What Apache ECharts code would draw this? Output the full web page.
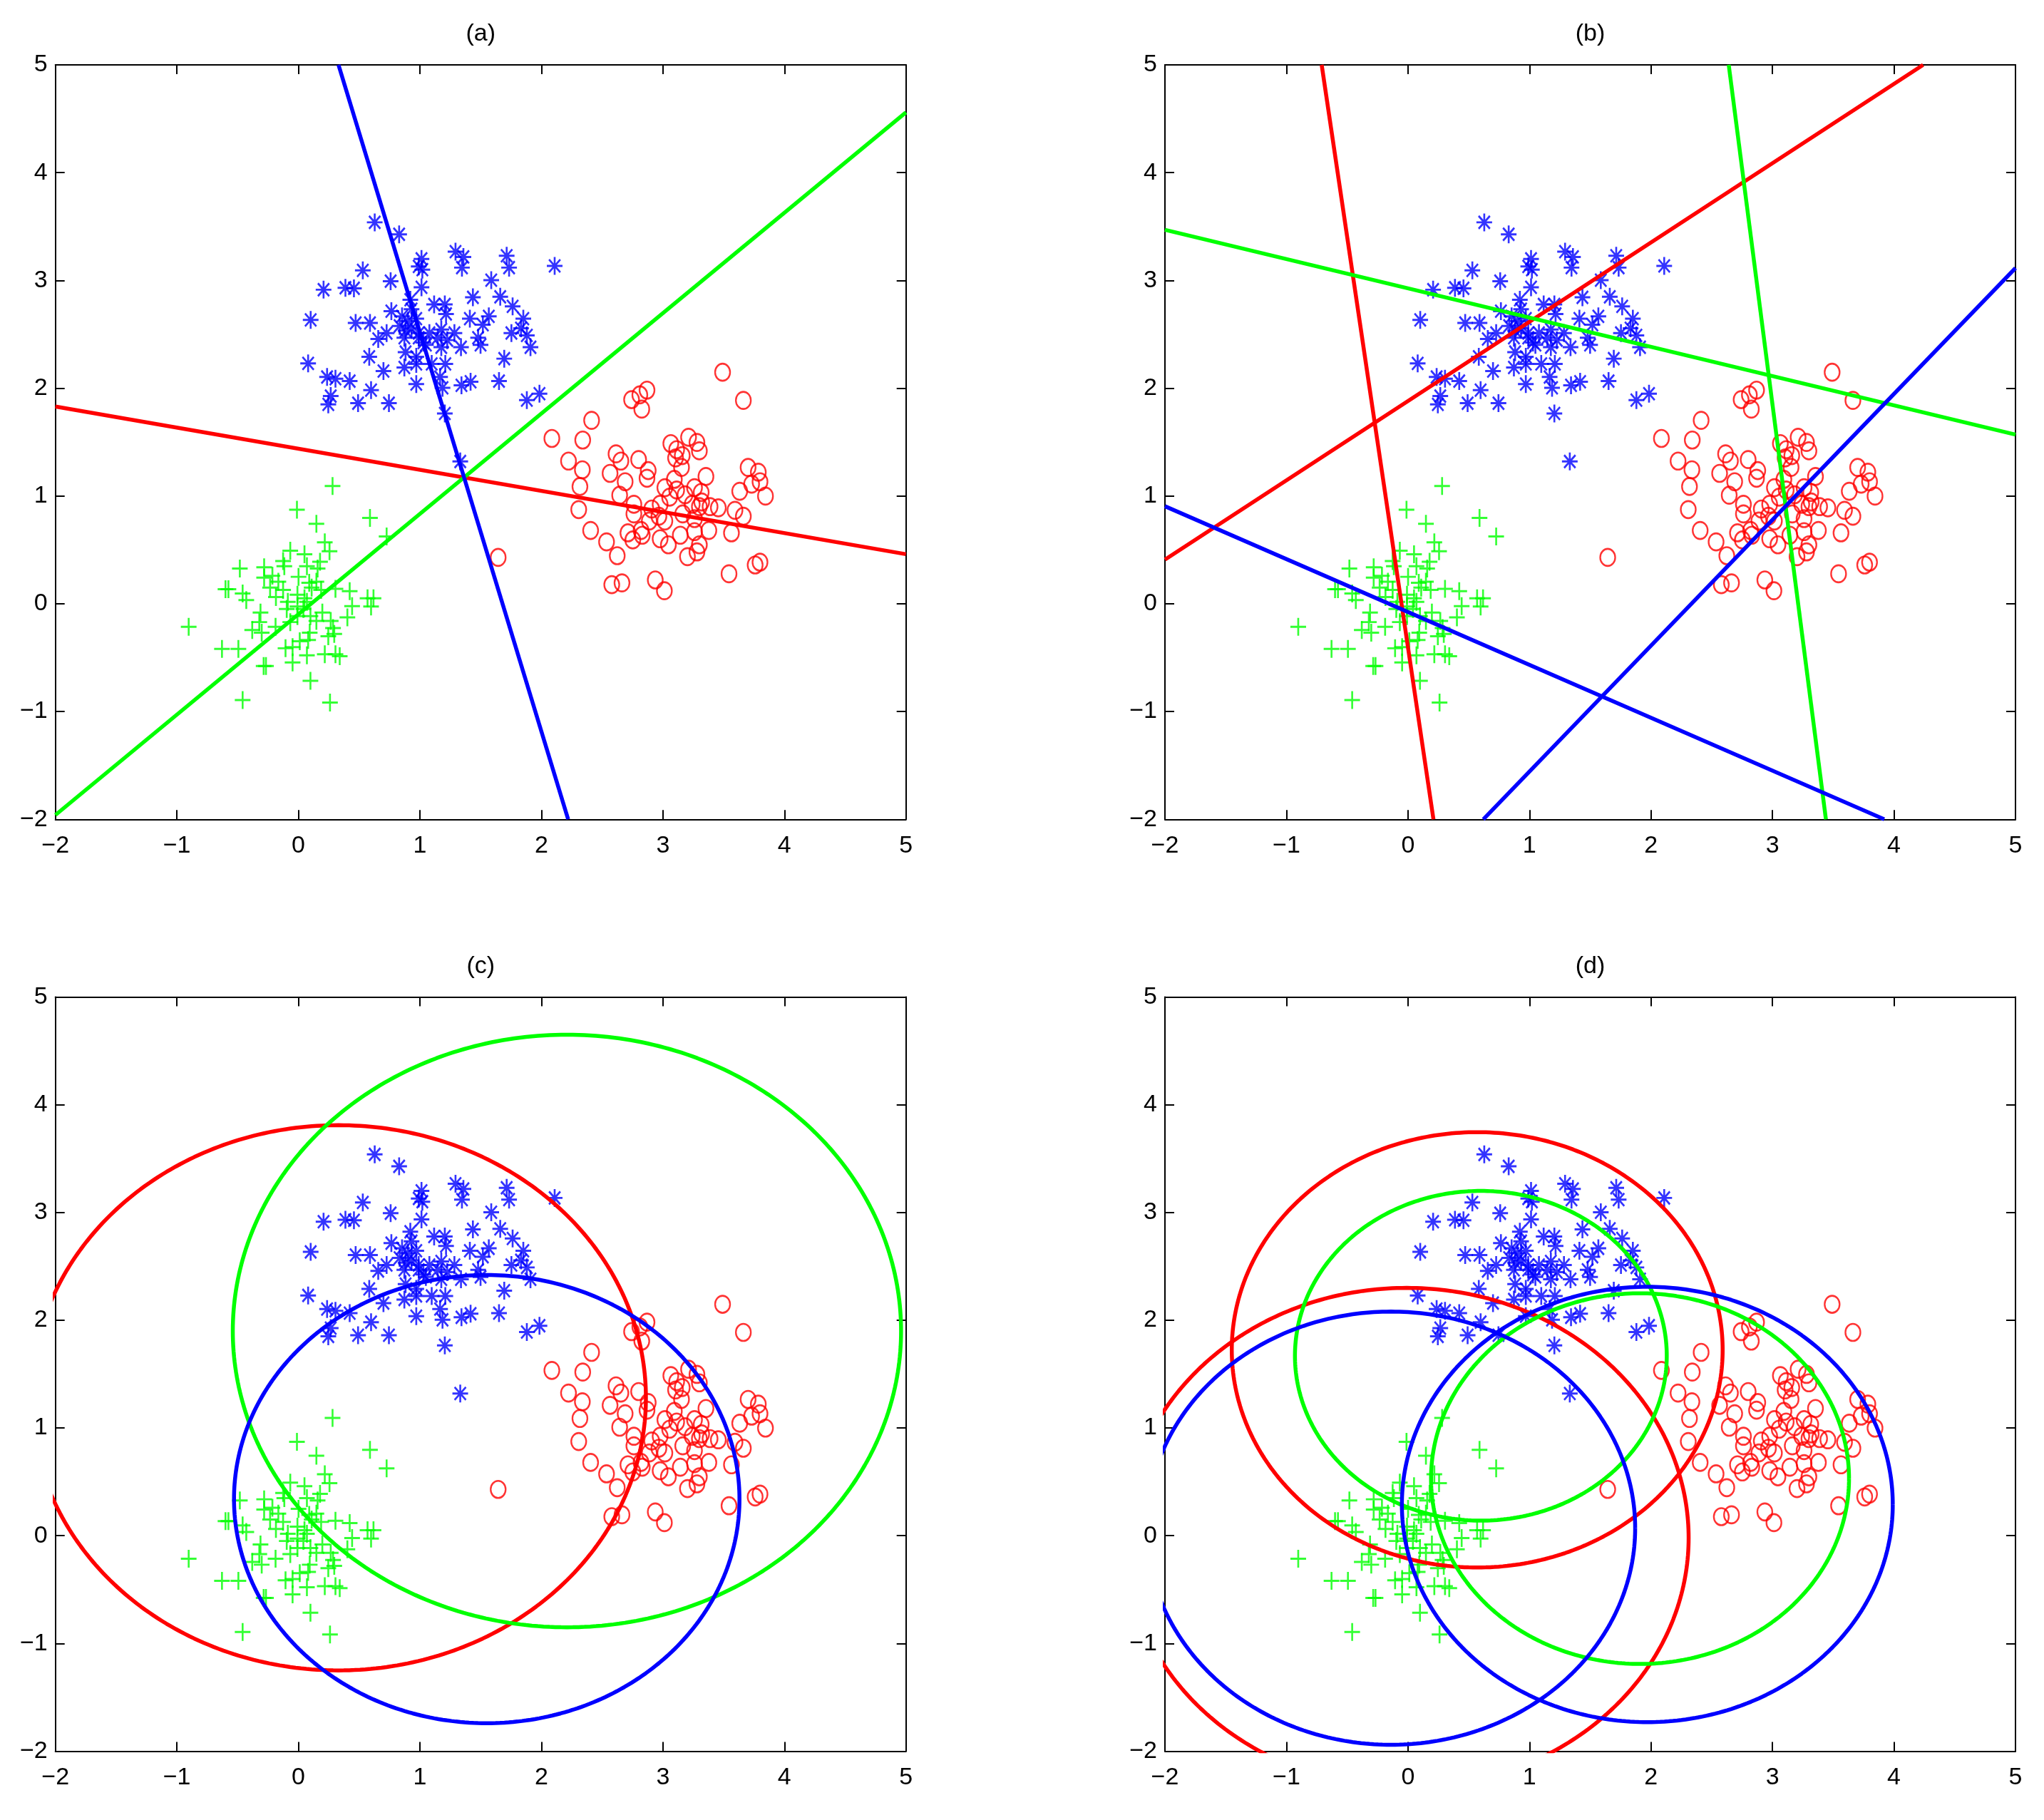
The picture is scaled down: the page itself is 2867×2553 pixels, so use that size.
<!DOCTYPE html>
<html>
<head>
<meta charset="utf-8">
<script src="https://cdn.jsdelivr.net/npm/echarts@6/dist/echarts.min.js"></script>
<style>
html,body{margin:0;padding:0;background:#fff;}
#chart{width:2867px;height:2553px;}
</style>
</head>
<body>
<div id="chart"></div>
<script>
// ---------------- DATA ----------------
const panelTitles = ['(a)', '(b)', '(c)', '(d)'];
const tickValues = [-2, -1, 0, 1, 2, 3, 4, 5];

const blueStars = [
[0.628,3.539],[0.829,3.428],[1.293,3.267],[1.358,3.218],[1.346,3.119],[1.714,3.229],[1.734,3.119],[2.109,3.135],
[0.530,3.093],[0.207,2.914],[0.387,2.932],[0.457,2.927],[0.759,2.993],[1.013,3.200],[0.990,3.130],[1.020,3.100],
[1.013,2.936],[1.587,3.002],[1.436,2.843],[1.661,2.848],[1.763,2.759],[1.851,2.645],[0.101,2.634],[0.471,2.605],
[0.589,2.605],[0.921,2.821],[0.765,2.715],[0.853,2.667],[0.902,2.623],[0.931,2.556],[0.882,2.534],[0.970,2.645],
[0.833,2.578],[0.931,2.733],[0.872,2.468],[0.990,2.512],[1.117,2.777],[1.205,2.777],[1.215,2.689],[1.411,2.645],
[1.567,2.667],[1.518,2.589],[1.753,2.512],[1.832,2.556],[1.880,2.490],[1.910,2.380],[1.479,2.468],[1.499,2.402],
[1.338,2.380],[1.284,2.512],[1.176,2.545],[1.078,2.512],[1.147,2.468],[1.225,2.446],[1.176,2.380],[1.029,2.424],
[0.657,2.457],[0.726,2.512],[0.882,2.335],[0.970,2.291],[0.583,2.291],[0.080,2.230],[0.872,2.192],[0.970,2.225],
[1.097,2.225],[1.209,2.225],[1.694,2.274],[0.700,2.159],[0.236,2.104],[0.305,2.088],[0.422,2.066],[0.598,1.982],
[0.266,1.927],[0.246,1.850],[0.491,1.861],[0.745,1.861],[0.970,2.038],[1.166,2.104],[1.186,2.004],[1.342,2.027],
[1.417,2.060],[1.651,2.066],[1.880,1.890],[1.984,1.949],[1.205,1.766],[1.332,1.320],[1.049,2.402],[0.990,2.468]
];

const redCircles = [
[3.491,2.148],[3.662,1.887],[2.742,1.894],[2.810,1.938],[2.869,1.982],[2.826,1.806],[2.413,1.702],[2.086,1.534],
[2.340,1.519],[2.223,1.324],[2.337,1.243],[2.317,1.088],[2.307,0.874],[2.405,0.680],[2.536,0.574],[2.624,0.446],
[2.579,0.177],[2.663,0.194],[2.937,0.221],[3.012,0.121],[3.544,0.278],[3.759,0.360],[3.799,0.386],[2.614,1.391],
[2.654,1.324],[2.565,1.210],[2.689,1.132],[2.644,1.007],[2.800,1.338],[2.879,1.236],[2.869,1.165],[3.065,1.486],
[3.211,1.545],[3.280,1.497],[3.300,1.419],[3.113,1.430],[3.159,1.375],[3.104,1.353],[3.153,1.265],[3.354,1.181],
[3.701,1.265],[3.785,1.221],[3.799,1.132],[3.844,0.999],[3.632,1.044],[3.730,1.110],[3.016,1.077],[3.094,1.154],
[3.113,1.055],[3.260,1.077],[3.315,1.033],[3.182,1.011],[3.055,0.989],[2.977,0.923],[2.761,0.923],[2.761,0.834],
[2.908,0.879],[2.967,0.812],[3.016,0.768],[3.241,0.923],[3.300,0.901],[3.388,0.901],[3.456,0.890],[3.593,0.867],
[3.662,0.812],[3.163,0.834],[3.260,0.790],[3.378,0.680],[3.564,0.658],[3.260,0.669],[3.300,0.547],[3.280,0.481],
[3.202,0.437],[3.143,0.636],[3.045,0.547],[2.977,0.603],[2.830,0.636],[2.820,0.680],[2.752,0.592],[2.712,0.658],
[2.888,0.768],[3.319,0.945],[1.644,0.430]
];

const greenPlus = [
[0.281,1.093],[-0.012,0.872],[0.148,0.742],[0.589,0.797],[0.726,0.625],[0.217,0.570],[0.256,0.488],[-0.067,0.492],
[0.050,0.459],[-0.126,0.397],[-0.116,0.348],[0.178,0.389],[0.158,0.327],[0.070,0.349],[-0.282,0.338],[-0.482,0.327],
[-0.600,0.135],[-0.576,0.135],[-0.459,0.095],[-0.429,0.035],[-0.282,0.243],[-0.214,0.260],[-0.165,0.205],[-0.233,0.150],
[-0.126,0.128],[0.001,0.250],[0.089,0.194],[0.148,0.205],[0.187,0.128],[0.305,0.139],[0.422,0.117],[0.569,0.051],
[0.618,0.051],[0.598,-0.026],[0.442,-0.022],[0.403,-0.126],[0.266,-0.159],[0.285,-0.225],[0.295,-0.280],[0.246,-0.302],
[0.099,-0.115],[0.041,-0.049],[0.070,0.018],[-0.008,-0.026],[-0.096,-0.049],[-0.008,-0.115],[-0.067,-0.170],[0.148,-0.159],
[-0.312,-0.082],[-0.322,-0.170],[-0.380,-0.243],[-0.302,-0.269],[-0.188,-0.214],[-0.903,-0.214],[-0.629,-0.419],[-0.494,-0.419],
[-0.286,-0.578],[-0.267,-0.578],[-0.048,-0.545],[-0.106,-0.413],[-0.048,-0.402],[0.011,-0.347],[0.080,-0.336],[0.093,-0.269],
[0.070,-0.479],[0.217,-0.468],[0.305,-0.468],[0.340,-0.486],[0.099,-0.715],[-0.459,-0.894],[0.260,-0.916],[-0.008,0.084],
[0.050,0.051],[0.109,0.150],[0.197,-0.082],[-0.087,0.018],[-0.185,0.062]
];

// Panel (a) separating lines: endpoints [x, y]
const aRedLines   = [[[-2, 1.83], [5, 0.46]]];
const aGreenLines = [[[-2, -1.96], [5, 4.56]]];
const aBlueLines  = [[[0.33, 5], [2.22, -2]]];

// Panel (b) lines
const bRedLines   = [[[-2, 0.41], [4.24, 5]], [[-0.71, 5], [0.21, -2]]];
const bGreenLines = [[[-2, 3.47], [5, 1.57]], [[2.64, 5], [3.44, -2]]];
const bBlueLines  = [[[-2, 0.905], [3.92, -2]], [[0.62, -2], [5, 3.115]]];

// Panel (c) and (d) circles: [centerX, centerY, radius]
const cRedCircles   = [[0.33, 1.28, 2.53]];
const cGreenCircles = [[2.21, 1.90, 2.75]];
const cBlueCircles  = [[1.55, 0.34, 2.08]];
const dRedCircles   = [[0.57, 1.725, 2.02], [-0.01, -0.02, 2.32]];
const dGreenCircles = [[0.60, 1.67, 1.53], [1.91, 0.53, 1.72]];
const dBlueCircles  = [[-0.14, 0.07, 2.01], [1.97, 0.29, 2.02]];

// ---------------- STYLE / LAYOUT ----------------
const FONT = "'Liberation Sans', Helvetica, Arial, sans-serif";
const FS = 34;
const RED = '#ff0000', GREEN = '#00ff00', BLUE = '#0000ff';
const LINE_W = 5.5;
const panels = [
  {left: 77.7, top: 91,     width: 1193, height: 1058.3},
  {left: 1634, top: 91,     width: 1193, height: 1058.3},
  {left: 77.7, top: 1398.5, width: 1193, height: 1058},
  {left: 1634, top: 1398.5, width: 1193, height: 1058}
];

function fmt(v) { return String(v).replace('-', '\u2212'); }

function circlePts(c) {
  const pts = [];
  const n = 360;
  for (let i = 0; i <= n; i++) {
    const t = i / n * 2 * Math.PI;
    pts.push([c[0] + c[2] * Math.cos(t), c[1] + c[2] * Math.sin(t)]);
  }
  return pts;
}

const grid = [], xAxis = [], yAxis = [], series = [], title = [];

function baseAxis(gi, pos, showLabel, margin) {
  return {
    type: 'value', gridIndex: gi, position: pos,
    min: -2, max: 5, interval: 1,
    axisLine: {show: true, onZero: false, lineStyle: {color: '#000', width: 2}},
    axisTick: {show: true, inside: true, length: 13, lineStyle: {color: '#000', width: 2}},
    splitLine: {show: false},
    axisLabel: {show: showLabel, formatter: fmt, fontSize: FS, fontFamily: FONT, color: '#000', margin: margin,
                showMinLabel: true, showMaxLabel: true}
  };
}

const plusPath = 'path://M0,-1L0,1M-1,0L1,0';
const starPath = 'path://M0,-1L0,1M-1,0L1,0M-0.72,-0.72L0.72,0.72M-0.72,0.72L0.72,-0.72';

panels.forEach((p, i) => {
  grid.push({left: p.left, top: p.top, width: p.width, height: p.height, containLabel: false});
  xAxis.push(baseAxis(i, 'bottom', true, 20));
  xAxis.push(baseAxis(i, 'top', false, 8));
  yAxis.push(baseAxis(i, 'left', true, 11));
  yAxis.push(baseAxis(i, 'right', false, 8));
  title.push({
    text: panelTitles[i], left: p.left + p.width / 2, top: p.top - 43,
    textAlign: 'center', textVerticalAlign: 'middle', padding: 0,
    textStyle: {fontSize: FS, fontWeight: 'normal', color: '#000', fontFamily: FONT}
  });
  const xi = 2 * i, yi = 2 * i;
  const common = {type: 'scatter', xAxisIndex: xi, yAxisIndex: yi, silent: true, animation: false};
  series.push(Object.assign({}, common, {
    name: 'blue' + i, data: blueStars, symbol: starPath, symbolSize: [22, 25],
    itemStyle: {color: 'rgba(0,0,0,0)', borderColor: BLUE, borderWidth: 2.8}
  }));
  series.push(Object.assign({}, common, {
    name: 'red' + i, data: redCircles, symbol: 'circle', symbolSize: [21, 24],
    itemStyle: {color: 'rgba(0,0,0,0)', borderColor: RED, borderWidth: 2.5}
  }));
  series.push(Object.assign({}, common, {
    name: 'green' + i, data: greenPlus, symbol: plusPath, symbolSize: [22, 25],
    itemStyle: {color: 'rgba(0,0,0,0)', borderColor: GREEN, borderWidth: 2.8}
  }));
});

function addLine(i, pts, color) {
  series.push({
    type: 'line', xAxisIndex: 2 * i, yAxisIndex: 2 * i, data: pts,
    showSymbol: false, symbol: 'none', clip: true, silent: true, animation: false,
    lineStyle: {color: color, width: LINE_W}
  });
}

aRedLines.forEach(l => addLine(0, l, RED));
aGreenLines.forEach(l => addLine(0, l, GREEN));
aBlueLines.forEach(l => addLine(0, l, BLUE));
bRedLines.forEach(l => addLine(1, l, RED));
bGreenLines.forEach(l => addLine(1, l, GREEN));
bBlueLines.forEach(l => addLine(1, l, BLUE));
cRedCircles.forEach(c => addLine(2, circlePts(c), RED));
cGreenCircles.forEach(c => addLine(2, circlePts(c), GREEN));
cBlueCircles.forEach(c => addLine(2, circlePts(c), BLUE));
dRedCircles.forEach(c => addLine(3, circlePts(c), RED));
dGreenCircles.forEach(c => addLine(3, circlePts(c), GREEN));
dBlueCircles.forEach(c => addLine(3, circlePts(c), BLUE));

const chart = echarts.init(document.getElementById('chart'), null, {renderer: 'canvas'});
chart.setOption({
  backgroundColor: '#ffffff',
  animation: false,
  title: title,
  grid: grid,
  xAxis: xAxis,
  yAxis: yAxis,
  series: series
});
</script>
</body>
</html>
